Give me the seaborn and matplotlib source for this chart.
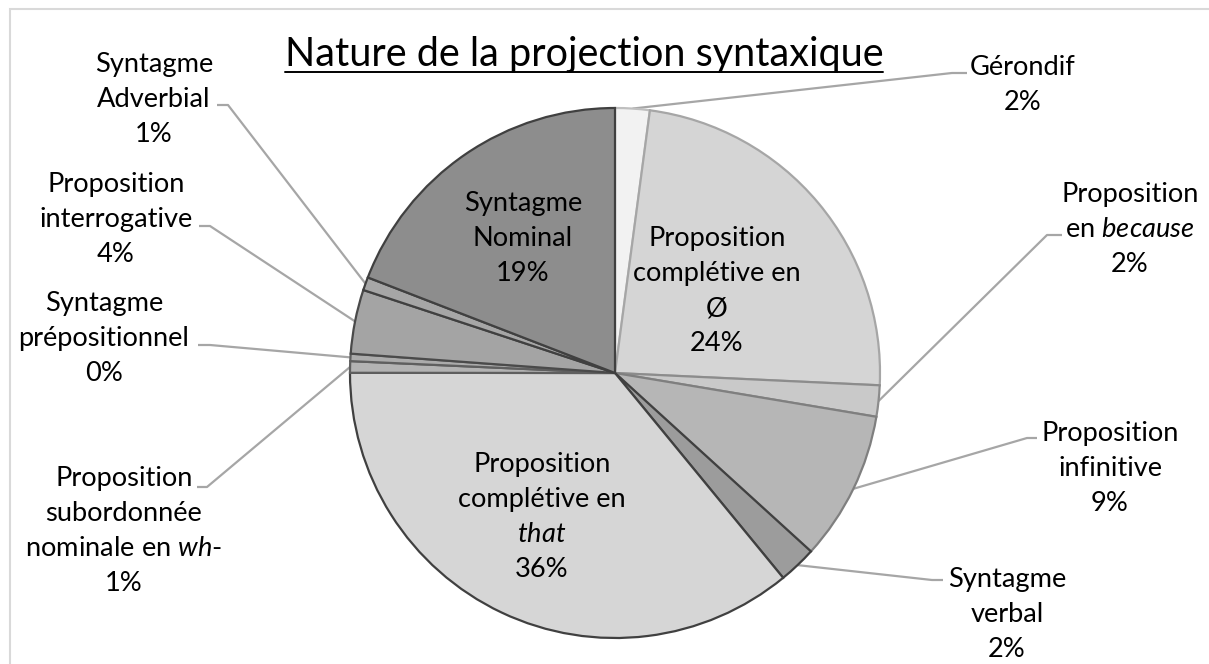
import matplotlib
matplotlib.use("Agg")
import matplotlib.pyplot as plt
from matplotlib.patches import Rectangle
import numpy as np
import seaborn as sns

W, H = 1209, 664

# slices, clockwise from 12 o'clock
categories = [
    "Gérondif",
    "Proposition\ncomplétive en\nØ",
    "Proposition\nen $\\it{because}$",
    "Proposition\ninfinitive",
    "Syntagme\nverbal",
    "Proposition\ncomplétive en\n$\\it{that}$",
    "Proposition\nsubordonnée\nnominale en $\\it{wh}$-",
    "Syntagme\nprépositionnel",
    "Proposition\ninterrogative",
    "Syntagme\nAdverbial",
    "Syntagme\nNominal",
]
shares = [2.1, 23.6, 1.9, 9.1, 2.3, 35.9, 0.7, 0.45, 3.9, 0.8, 19.1]
slice_colors = ["#f2f2f2", "#d5d5d5", "#c9c9c9", "#b6b6b6", "#9c9c9c", "#d6d6d6",
                "#b3b3b3", "#ababab", "#a4a4a4", "#a6a6a6", "#8d8d8d"]
edge_colors = ["#bfbfbf", "#a6a6a6", "#8c8c8c", "#7f7f7f", "#404040", "#404040",
               "#5f5f5f", "#5f5f5f", "#4a4a4a", "#404040", "#404040"]

# label layout: centre x, first line y (pixels from top), leader elbow (x0, x1, y) or None
label_x = [1023, 717, 1130, 1110, 1007, 542, 124, 104, 116, 154, 523]
label_y = [66, 237, 193, 432, 578, 463, 477, 302, 183, 63, 202]
elbows = [(967, 952, 73), None, (1062, 1047, 235), (1037, 1027, 438), (943, 932, 580),
          None, (197, 207, 487), (198, 210, 345), (199, 210, 226), (217, 228, 105), None]

sns.set_theme(style="white")
plt.rcParams["font.family"] = ["Lato", "DejaVu Sans"]
plt.rcParams["mathtext.fontset"] = "custom"
plt.rcParams["mathtext.rm"] = "Lato"
plt.rcParams["mathtext.it"] = "Lato:italic"

fig = plt.figure(figsize=(W / 100, H / 100), dpi=100)
ax = fig.add_axes([0, 0, 1, 1])

cx, cy, R = 615, H - 373, 265
wedges, _ = ax.pie(shares, colors=slice_colors, startangle=90, counterclock=False,
                   center=(cx, cy), radius=R, wedgeprops=dict(linewidth=1.6))
for w, ec in zip(wedges, edge_colors):
    w.set_edgecolor(ec)

ax.set_xlim(0, W)
ax.set_ylim(0, H)
ax.set_aspect("equal")
ax.axis("off")

total = sum(shares)
fs = 19.6
step = 35
for i, (name, v) in enumerate(zip(categories, shares)):
    lines = name.split("\n") + [f"{v / total * 100:.0f}%"]
    for k, line in enumerate(lines):
        ax.text(label_x[i], H - (label_y[i] + k * step + 9), line, ha="center",
                va="baseline", fontsize=fs, color="black")
    if elbows[i] is not None:
        w = wedges[i]
        mid = np.deg2rad((w.theta1 + w.theta2) / 2)
        px, py = cx + R * np.cos(mid), cy + R * np.sin(mid)
        x0, x1, ey = elbows[i]
        ax.plot([x0, x1, px], [H - ey, H - ey, py], color="#a6a6a6", lw=1.6,
                solid_capstyle="butt", zorder=0.5)

title = ax.text(584, H - 66, "Nature de la projection syntaxique", ha="center",
                va="baseline", fontsize=28.5, color="black")
fig.canvas.draw()
bb = title.get_window_extent()
ax.plot([bb.x0, bb.x1], [H - 72, H - 72], color="black", lw=1.4)

ax.add_patch(Rectangle((10, -20), W + 20, H - 9 + 20, fill=False,
                       edgecolor="#d9d9d9", lw=1.5, clip_on=False))

fig.savefig("out.png", dpi=100)
